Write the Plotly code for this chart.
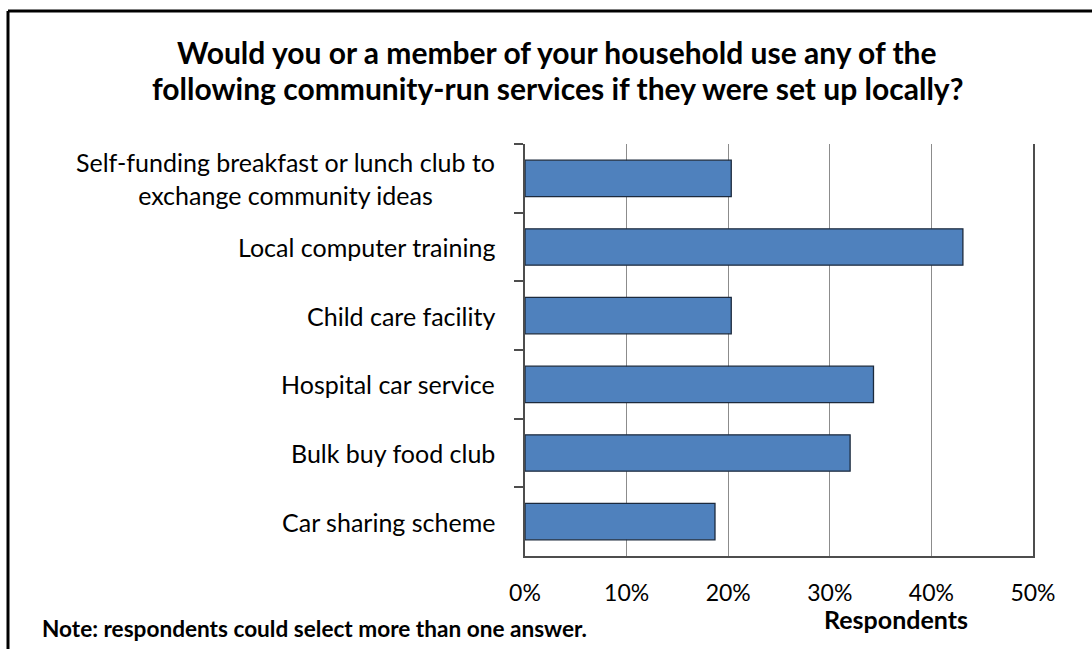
import plotly.graph_objects as go

# ---- data ----
categories = [
    "Self-funding breakfast or lunch club to<br>exchange community ideas",
    "Local computer training",
    "Child care facility",
    "Hospital car service",
    "Bulk buy food club",
    "Car sharing scheme",
]
values = [20.3, 43.1, 20.3, 34.3, 32.0, 18.7]
x_ticks = [0, 10, 20, 30, 40, 50]
x_tick_labels = ["0%", "10%", "20%", "30%", "40%", "50%"]
title_lines = ["Would you or a member of your household use any of the",
               "following community-run services if they were set up locally?"]
x_title = "Respondents"
note_text = "Note: respondents could select more than one answer."

W, H = 1092, 649
FONT = "Lato"

def px(x):
    return x / W

def py(y):
    return (H - y) / H

fig = go.Figure()
fig.add_trace(go.Bar(
    x=values, y=categories, orientation="h",
    marker=dict(color="#4f81bd", line=dict(color="#1c2a3d", width=1.3)),
    width=0.53, hoverinfo="skip", showlegend=False,
))

axis_dark = "#4d4d4d"
grid = "#8c8c8c"

fig.update_layout(
    width=W, height=H,
    margin=dict(l=0, r=0, t=0, b=0, autoexpand=False),
    paper_bgcolor="white", plot_bgcolor="white",
    font=dict(family=FONT, color="#000000"),
    xaxis=dict(
        domain=[px(525), px(1033)],
        range=[0, 50], tickvals=x_ticks, ticktext=x_tick_labels,
        showgrid=True, gridcolor=grid, gridwidth=1, zeroline=False,
        showline=True, linecolor=axis_dark, linewidth=1.5, mirror=False,
        ticks="", ticklabelstandoff=16,
        tickfont=dict(family=FONT, size=23, color="#000000"),
        fixedrange=True,
    ),
    xaxis2=dict(
        overlaying="x", side="top", matches="x", range=[0, 50],
        tickvals=x_ticks, showticklabels=False, ticks="outside",
        ticklen=9, tickcolor=axis_dark, tickwidth=1.5,
        showline=True, linecolor=axis_dark, linewidth=1.5,
        showgrid=False, zeroline=False,
    ),
    yaxis=dict(
        domain=[py(556), py(144)],
        autorange="reversed", type="category",
        showticklabels=False, ticks="outside", tickson="boundaries",
        ticklen=9, tickcolor=axis_dark, tickwidth=1.5,
        showline=True, linecolor=axis_dark, linewidth=1.5, mirror=True,
        showgrid=False, zeroline=False,
    ),
    bargap=0.47,
)

annotations = []
for cat in categories:
    annotations.append(dict(
        x=px(497), xref="paper", y=cat, yref="y",
        text=cat, showarrow=False, xanchor="right", yanchor="middle",
        align="center", font=dict(family=FONT, size=25, color="#000000"),
    ))
for line, yc in zip(title_lines, [52, 88]):
    annotations.append(dict(
        x=px(557), y=py(yc), xref="paper", yref="paper", text="<b>" + line + "</b>",
        showarrow=False, xanchor="center", yanchor="middle", align="center",
        font=dict(family=FONT, size=30, color="#000000"),
    ))
annotations.append(dict(
    x=px(896), y=py(619), xref="paper", yref="paper", text="<b>" + x_title + "</b>",
    showarrow=False, xanchor="center", yanchor="middle",
    font=dict(family=FONT, size=25, color="#000000"),
))
annotations.append(dict(
    x=px(40), y=py(628), xref="paper", yref="paper", text="<b>" + note_text + "</b>",
    showarrow=False, xanchor="left", yanchor="middle",
    font=dict(family=FONT, size=22.6, color="#000000"),
))
fig.update_layout(annotations=annotations)

fig.add_shape(type="line", xref="paper", yref="paper",
              x0=px(8), x1=px(8), y0=0, y1=py(11),
              line=dict(color="black", width=3))
fig.add_shape(type="line", xref="paper", yref="paper",
              x0=px(8), x1=1, y0=py(11), y1=py(11),
              line=dict(color="black", width=3))

fig.write_html("out.html", config={"displayModeBar": False},
               post_script="document.body.style.margin='0px';")
